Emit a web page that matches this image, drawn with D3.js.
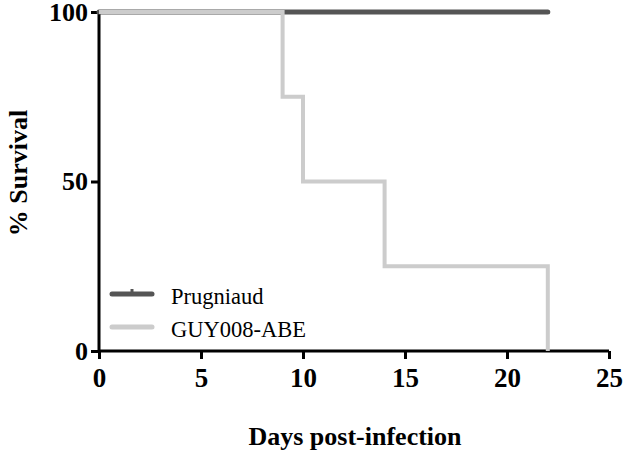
<!DOCTYPE html>
<html><head><meta charset="utf-8">
<script src="https://cdn.jsdelivr.net/npm/d3@7"></script>
<style>body{margin:0;background:#fff}svg{display:block}</style>
</head><body>
<script>
const seriesNames = ["Prugniaud", "GUY008-ABE"];
const prugDays = [0, 22];
const prugSurv = [100, 100];
const guyDays = [0, 9, 10, 14, 22];
const guySurv = [100, 75, 50, 25, 0];
const xTicks = [0, 5, 10, 15, 20, 25];
const yTicks = [0, 50, 100];
const colors = ["#555555", "#cccccc"];

const W = 630, H = 459;
const svg = d3.select("body").append("svg").attr("width", W).attr("height", H);
const x = d3.scaleLinear().domain([0, 25]).range([99, 609]);
const y = d3.scaleLinear().domain([0, 100]).range([351, 12]);
const font = "'Liberation Serif','Times New Roman',serif";

function stepPts(days, surv) {
  const pts = [];
  for (let i = 0; i < days.length; i++) {
    if (i > 0) pts.push([days[i], surv[i - 1]]);
    pts.push([days[i], surv[i]]);
  }
  return pts;
}
const line = d3.line().x(d => x(d[0])).y(d => y(d[1]));

// axes
const xAxis = svg.append("g").attr("transform", `translate(0,${y(0)})`)
  .call(d3.axisBottom(x).tickValues(xTicks).tickSize(8).tickPadding(9).tickFormat(d3.format("d")));
const yAxis = svg.append("g").attr("transform", `translate(${x(0)},0)`)
  .call(d3.axisLeft(y).tickValues(yTicks).tickSize(8).tickPadding(3).tickFormat(d3.format("d")));
[xAxis, yAxis].forEach(g => {
  g.select(".domain").attr("stroke", "#000").attr("stroke-width", 3);
  g.selectAll(".tick line").attr("stroke", "#000").attr("stroke-width", 3);
  g.selectAll("text").attr("font-family", font).attr("font-weight", "bold")
    .attr("font-size", 27).attr("fill", "#000");
});
yAxis.selectAll("text").attr("font-size", 26);
xAxis.select(".domain").attr("d", `M${x(0)},0H${x(25)}`);
yAxis.select(".domain").attr("d", `M0,${y(0)}V${y(100)}`);

// series
svg.append("path").attr("d", line(stepPts(prugDays, prugSurv)))
  .attr("fill", "none").attr("stroke", colors[0]).attr("stroke-width", 5).attr("stroke-linecap", "round");
svg.append("path").attr("d", line(stepPts(guyDays, guySurv)))
  .attr("fill", "none").attr("stroke", colors[1]).attr("stroke-width", 4);

// legend
const leg = svg.append("g");
seriesNames.forEach((n, i) => {
  const ly = 294 + i * 33;
  leg.append("line").attr("x1", 112).attr("x2", 152).attr("y1", ly).attr("y2", ly)
    .attr("stroke", colors[i]).attr("stroke-width", 5).attr("stroke-linecap", "round");
  if (i === 0) leg.append("line").attr("x1", 132).attr("x2", 132).attr("y1", ly - 5).attr("y2", ly)
    .attr("stroke", colors[i]).attr("stroke-width", 3);
  leg.append("text").attr("x", 171).attr("y", ly + 10).text(n)
    .attr("font-family", font).attr("font-size", 22.5).attr("fill", "#000");
});

// titles
svg.append("text").attr("x", 355).attr("y", 445).attr("text-anchor", "middle")
  .attr("font-family", font).attr("font-weight", "bold").attr("font-size", 26).text("Days post-infection");
svg.append("text").attr("transform", "translate(27,173) rotate(-90)").attr("text-anchor", "middle")
  .attr("font-family", font).attr("font-weight", "bold").attr("font-size", 26).text("% Survival");
</script>
</body></html>
